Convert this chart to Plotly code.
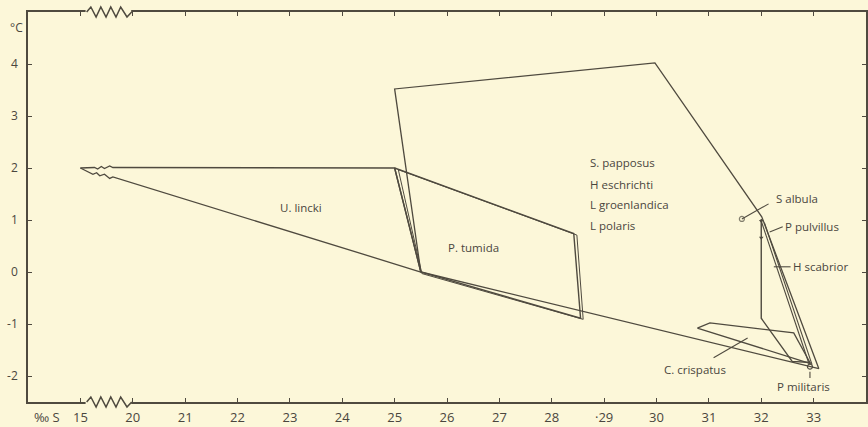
import plotly.graph_objects as go

# salinity (per mille) / temperature (deg C) outlines.
# values below 20 sit in the broken part of the axis (15 .. 20)
lincki_top_sal = [15.0, 16.35, 16.65, 17.0, 17.3, 17.8, 18.1, 25.0, 25.5]
lincki_top_temp = [2.0, 2.01, 1.98, 2.03, 1.99, 2.04, 2.01, 2.0, 0.0]
lincki_low_sal = [15.0, 16.2, 16.55, 16.85, 17.3, 17.8, 18.1, 25.5, 33.1]
lincki_low_temp = [2.0, 1.88, 1.91, 1.85, 1.88, 1.80, 1.83, 0.0, -1.86]

tumida_sal = [25.0, 28.42, 28.55, 25.5, 25.0]
tumida_temp = [2.0, 0.74, -0.89, 0.0, 2.0]
tumida2_sal = [25.07, 28.48, 28.6, 25.52, 25.07]
tumida2_temp = [1.97, 0.71, -0.91, -0.03, 1.97]

big_sal = [25.5, 25.0, 29.97, 32.01, 33.1]
big_temp = [0.0, 3.52, 4.02, 1.06, -1.86]

pulv_sal = [32.0, 32.0, 32.59, 32.94]
pulv_temp = [1.02, -0.89, -1.72, -1.74]
scab_a_sal = [32.0, 32.91]
scab_a_temp = [0.98, -1.76]
scab_b_sal = [32.06, 32.97]
scab_b_temp = [0.95, -1.78]

crisp_sal = [30.78, 31.02, 32.62, 32.94, 30.78]
crisp_temp = [-1.08, -0.98, -1.17, -1.76, -1.08]

# leader lines (label pointers)
albula_sal = [31.63, 32.14]
albula_temp = [1.02, 1.31]
pulvlead_sal = [32.16, 32.41]
pulvlead_temp = [0.77, 0.87]
scablead_sal = [32.24, 32.56]
scablead_temp = [0.10, 0.10]
crisplead_sal = [31.09, 31.74]
crisplead_temp = [-1.65, -1.27]
milit_sal = [32.93, 32.93]
milit_temp = [-1.92, -2.04]

labels = [
    ("U. lincki", 22.77, 1.25),
    ("P. tumida", 25.98, 0.48),
    ("S. papposus", 28.70, 2.10),
    ("H eschrichti", 28.70, 1.69),
    ("L groenlandica", 28.70, 1.29),
    ("L polaris", 28.70, 0.90),
    ("S albula", 32.24, 1.42),
    ("P pulvillus", 32.42, 0.88),
    ("H scabrior", 32.57, 0.10),
]
center_labels = [
    ("C. crispatus", 30.73, -1.88),
    ("P militaris", 32.81, -2.21),
]

x_ticks = [15, 20, 21, 22, 23, 24, 25, 26, 27, 28, 29, 30, 31, 32, 33]
x_text = ["15", "20", "21", "22", "23", "24", "25", "26", "27", "28", "·29", "30", "31", "32", "33"]
y_ticks = [-2, -1, 0, 1, 2, 3, 4]
y_text = ["-2", "-1", "0", "1", "2", "3", "4"]

BG = "#fcf7d9"
INK = "#4f4a3f"
TXT = "#4a463e"
X0, X1 = 18, 34


def pos(s):
    # squeeze the 15-20 stretch into one unit of the axis
    return s if s >= 20 else 19 + (s - 15) / 5


def P(xs):
    return [pos(v) for v in xs]


fig = go.Figure()


def outline(xs, ys, w=1.3):
    fig.add_trace(go.Scatter(x=P(xs), y=ys, mode="lines",
                             line=dict(color=INK, width=w), hoverinfo="skip"))


outline(lincki_top_sal, lincki_top_temp)
outline(lincki_low_sal, lincki_low_temp)
outline(tumida_sal, tumida_temp, 1.4)
outline(tumida2_sal, tumida2_temp, 1.0)
outline(big_sal, big_temp)
outline(pulv_sal, pulv_temp, 1.4)
outline(scab_a_sal, scab_a_temp, 1.1)
outline(scab_b_sal, scab_b_temp, 1.1)
outline(crisp_sal, crisp_temp)
for xs, ys in [(pulvlead_sal, pulvlead_temp), (scablead_sal, scablead_temp),
               (crisplead_sal, crisplead_temp), (milit_sal, milit_temp)]:
    outline(xs, ys, 1.1)

fig.add_trace(go.Scatter(x=albula_sal, y=albula_temp, mode="lines+markers",
                         line=dict(color=INK, width=1.1),
                         marker=dict(symbol=["circle-open", "circle"], size=[5, 0],
                                     color=INK, line=dict(width=1.2)),
                         hoverinfo="skip"))
fig.add_trace(go.Scatter(x=[32.93], y=[-1.82], mode="markers",
                         marker=dict(symbol="circle-open", size=5, color=INK,
                                     line=dict(width=1.2)),
                         hoverinfo="skip"))
fig.add_trace(go.Scatter(x=[32.0, 32.0], y=[0.98, 0.66], mode="markers",
                         marker=dict(symbol="triangle-down", size=4, color=INK),
                         hoverinfo="skip"))

for txt, x, y in labels:
    fig.add_annotation(x=x, y=y, text=txt, showarrow=False, xanchor="left",
                       font=dict(size=11.5, color=TXT, family="Open Sans"))
for txt, x, y in center_labels:
    fig.add_annotation(x=x, y=y, text=txt, showarrow=False, xanchor="center",
                       font=dict(size=11.5, color=TXT, family="Open Sans"))

fig.add_annotation(xref="paper", yref="paper", x=-0.014, y=0.96, text="°C",
                   xanchor="center", yanchor="middle", showarrow=False,
                   font=dict(size=12, color=TXT, family="Open Sans"))
fig.add_annotation(xref="paper", yref="paper", x=0.023, y=-0.038, text="‰ S",
                   xanchor="center", yanchor="middle", showarrow=False,
                   font=dict(size=13, color=TXT, family="Open Sans"))

# axis break: blank the frame between 15 and 20 and draw the zigzag
PLOT_H = 390
zz_x = [19.12, 19.2, 19.30, 19.39, 19.49, 19.58, 19.68, 19.77, 19.89, 19.98]
zz_d = [0, 5, -5, 5, -5, 5, -5, 5, -5, 0]


def px(a):
    return (a - X0) / (X1 - X0)


for base in (1.0, 0.0):
    fig.add_shape(type="rect", xref="paper", yref="paper", layer="above",
                  x0=px(19.1), x1=px(19.97), y0=base - 0.02, y1=base + 0.02,
                  fillcolor=BG, line=dict(width=0))
    path = "M " + " L ".join(f"{px(a):.5f},{base + d / PLOT_H:.5f}"
                             for a, d in zip(zz_x, zz_d))
    fig.add_shape(type="path", xref="paper", yref="paper", layer="above",
                  path=path, line=dict(color=INK, width=1.5))

fig.update_layout(
    width=868, height=427,
    margin=dict(l=28, r=2, t=12, b=25, autoexpand=False),
    paper_bgcolor=BG, plot_bgcolor=BG,
    showlegend=False,
    font=dict(family="Open Sans", color=TXT),
)
fig.update_xaxes(range=[X0, X1], tickvals=P(x_ticks), ticktext=x_text,
                 automargin=False,
                 showgrid=False, zeroline=False,
                 showline=True, linewidth=1.6, linecolor=INK, mirror="ticks",
                 ticks="inside", ticklen=4, tickwidth=1.2, tickcolor=INK,
                 tickfont=dict(size=13, color=TXT), ticklabelstandoff=3)
fig.update_yaxes(range=[-2.5, 5.0], tickvals=y_ticks, ticktext=y_text,
                 automargin=False,
                 showgrid=False, zeroline=False,
                 showline=True, linewidth=1.6, linecolor=INK, mirror="ticks",
                 ticks="inside", ticklen=4, tickwidth=1.2, tickcolor=INK,
                 tickfont=dict(size=12, color=TXT), ticklabelstandoff=6)

# the page's default 8px body margin would push the figure off the window
fig.write_html("out.html", config={"displayModeBar": False},
               post_script="document.body.style.margin='0';")
